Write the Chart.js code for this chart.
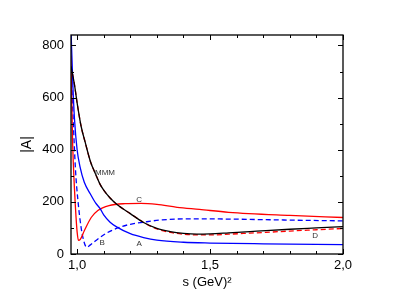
<!DOCTYPE html>
<html>
<head>
<meta charset="utf-8">
<script src="https://cdn.jsdelivr.net/npm/chart.js@4.4.1/dist/chart.umd.min.js"></script>
<style>
  html, body { margin: 0; padding: 0; background: #fff; }
  canvas { display: block; }
</style>
</head>
<body>
<canvas id="chart" width="399" height="305"></canvas>
<script>
// values, s in GeV^2, |A|
const sMMM = [0.977, 0.99, 1.0, 1.015, 1.03, 1.05, 1.07, 1.085, 1.1, 1.124, 1.15, 1.2, 1.25, 1.3, 1.35, 1.4, 1.45, 1.5, 1.57, 1.65, 1.71, 1.8, 1.9, 2.0];
const vMMM = [720, 650, 580, 490, 430, 355, 305, 270, 245, 215, 190, 155, 121, 98, 86, 79, 76, 77, 81, 86, 90, 95, 100, 105];

const sD = [0.977, 0.99, 1.0, 1.015, 1.03, 1.05, 1.07, 1.085, 1.1, 1.124, 1.15, 1.2, 1.25, 1.3, 1.35, 1.4, 1.45, 1.5, 1.57, 1.65, 1.71, 1.8, 1.9, 2.0];
const vD = [720, 650, 580, 490, 430, 355, 305, 270, 245, 215, 190, 155, 121, 96, 83, 76, 73, 73, 76, 80, 83, 88, 93, 98];

const sA = [0.977, 0.984, 0.99, 1.0, 1.011, 1.027, 1.05, 1.07, 1.086, 1.1, 1.124, 1.15, 1.2, 1.25, 1.3, 1.4, 1.5, 1.7, 2.0];
const vA = [860, 650, 520, 400, 334, 275, 230, 195, 175, 150, 122, 103, 78, 63, 53, 45, 42, 39, 36];

const sB = [0.977, 0.985, 0.994, 1.003, 1.015, 1.025, 1.036, 1.05, 1.071, 1.109, 1.158, 1.2, 1.25, 1.32, 1.44, 1.57, 1.8, 2.0];
const vB = [720, 520, 321, 206, 102, 50, 26, 35, 52, 79, 102, 114, 122, 131, 135, 134, 130, 127];

const sC = [0.977, 0.98, 0.983, 0.99, 0.996, 1.0, 1.005, 1.012, 1.027, 1.053, 1.078, 1.12, 1.18, 1.24, 1.3, 1.376, 1.46, 1.57, 1.8, 2.0];
const vC = [760, 580, 430, 250, 140, 85, 52, 56, 89, 140, 167, 186, 193, 194, 190, 179, 171, 160, 148, 140];

const xTicks = [1.0, 1.5, 2.0];
const yTicks = [0, 200, 400, 600, 800];

// curve names placed next to the lines: [text, s, |A|]
const curveLabels = [
  ['MMM', 1.105, 313],
  ['C', 1.233, 206],
  ['B', 1.094, 44],
  ['A', 1.233, 40],
  ['D', 1.895, 71]
];

const FONT = '"Liberation Sans", Arial, Helvetica, sans-serif';

function pts(xs, ys) {
  return xs.map((x, i) => ({ x: x, y: ys[i] }));
}

function line(data, color, dash) {
  return {
    data: data,
    borderColor: color,
    borderWidth: 1.3,
    borderDash: dash || [],
    pointRadius: 0,
    fill: false,
    cubicInterpolationMode: 'monotone'
  };
}

// box with inward ticks on all sides + curve labels
const framePlugin = {
  id: 'frame',
  afterDatasetsDraw(chart) {
    const ctx = chart.ctx;
    const a = chart.chartArea;
    const xs = chart.scales.x, ys = chart.scales.y;
    ctx.save();
    ctx.strokeStyle = '#000';
    ctx.lineWidth = 1.3;
    ctx.strokeRect(a.left, a.top, a.right - a.left, a.bottom - a.top);
    ctx.lineWidth = 1;
    ctx.beginPath();
    for (let i = 10; i <= 20; i++) {
      const px = Math.round(xs.getPixelForValue(i / 10)) + 0.5;
      const len = (i % 5 === 0) ? 5 : 3;
      ctx.moveTo(px, a.bottom); ctx.lineTo(px, a.bottom - len);
      ctx.moveTo(px, a.top); ctx.lineTo(px, a.top + len);
    }
    for (let v = 0; v <= 800; v += 100) {
      const py = Math.round(ys.getPixelForValue(v)) + 0.5;
      const len = (v % 200 === 0) ? 5 : 3;
      ctx.moveTo(a.left, py); ctx.lineTo(a.left + len, py);
      ctx.moveTo(a.right, py); ctx.lineTo(a.right - len, py);
    }
    ctx.stroke();

    ctx.fillStyle = '#333';
    ctx.font = '8px ' + FONT;
    ctx.textAlign = 'center';
    ctx.textBaseline = 'middle';
    curveLabels.forEach(l => {
      ctx.fillText(l[0], xs.getPixelForValue(l[1]), ys.getPixelForValue(l[2]));
    });
    ctx.restore();
  }
};

new Chart(document.getElementById('chart'), {
  type: 'line',
  data: {
    datasets: [
      line(pts(sMMM, vMMM), '#000000'),
      line(pts(sA, vA), '#0000ff'),
      line(pts(sC, vC), '#ff0000'),
      line(pts(sB, vB), '#0000ff', [5, 3]),
      line(pts(sD, vD), '#ff0000', [5, 3])
    ]
  },
  options: {
    responsive: false,
    animation: false,
    events: [],
    layout: { padding: { left: 0, right: 56, top: 35, bottom: 12 } },
    plugins: { legend: { display: false }, tooltip: { enabled: false } },
    scales: {
      x: {
        type: 'linear',
        min: 0.977,
        max: 2.0,
        grid: { display: false, drawTicks: false },
        border: { display: false },
        afterBuildTicks(scale) { scale.ticks = xTicks.map(v => ({ value: v })); },
        afterFit(scale) { scale.height = 305 - 254 - 12; },
        ticks: {
          color: '#000',
          padding: 4,
          maxRotation: 0,
          font: { family: FONT, size: 13 },
          callback: v => v.toFixed(1).replace('.', ',')
        },
        title: {
          display: true,
          text: 's (GeV)²',
          color: '#000',
          padding: { top: 0, bottom: 3 },
          font: { family: FONT, size: 13 }
        }
      },
      y: {
        type: 'linear',
        min: 0,
        max: 840,
        grid: { display: false, drawTicks: false },
        border: { display: false },
        afterBuildTicks(scale) { scale.ticks = yTicks.map(v => ({ value: v })); },
        afterFit(scale) { scale.width = 71; },
        ticks: {
          color: '#000',
          padding: 7,
          font: { family: FONT, size: 13 }
        },
        title: {
          display: true,
          text: '|A|',
          color: '#000',
          padding: { top: 19, bottom: 0 },
          font: { family: FONT, size: 14 }
        }
      }
    }
  },
  plugins: [framePlugin]
});
</script>
</body>
</html>
